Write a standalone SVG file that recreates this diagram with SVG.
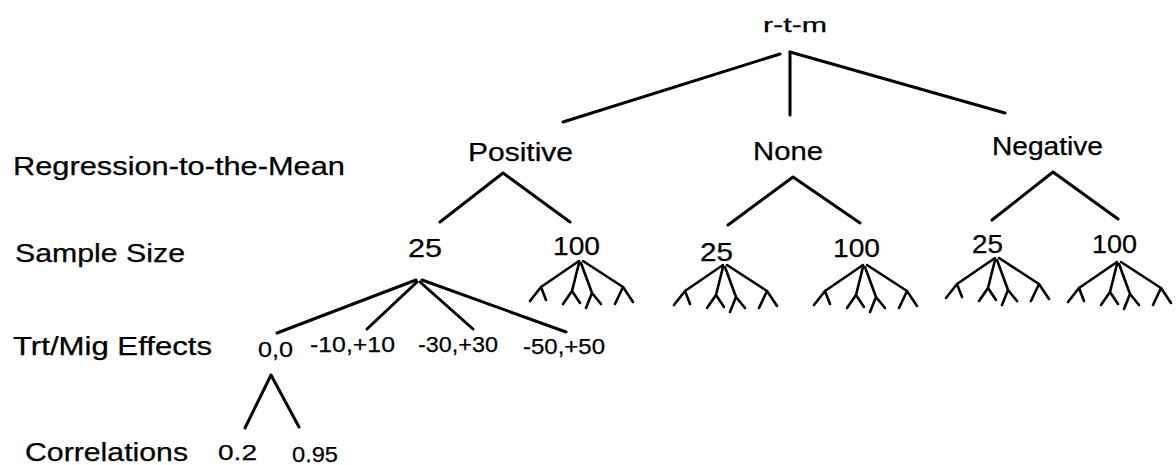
<svg xmlns="http://www.w3.org/2000/svg" xmlns:xlink="http://www.w3.org/1999/xlink" width="1176" height="465" viewBox="0 0 1176 465">
  <style>
    text { font-family: "Liberation Sans", Arial, sans-serif; fill: #000; stroke: #000; stroke-width: 0.25; }
    .lvl { font-size: 25px; }
    .node { font-size: 25px; }
    .val { font-size: 22px; }
    .root { font-size: 21px; }
    .edge { stroke: #000; stroke-width: 3; fill: none; stroke-linecap: round; stroke-linejoin: round; }
    .leaf { stroke: #000; stroke-width: 2.6; fill: none; stroke-linecap: round; stroke-linejoin: round; }
  </style>
  <defs>
    <g id="fan">
      <path class="leaf" d="M0,0 L-38,26 M-38,26 L-49,40 M-38,26 L-33,39"/>
      <path class="leaf" d="M0,2 L-7,30 M-7,30 L-16,43 M-7,30 L1,42"/>
      <path class="leaf" d="M2,2 L13,32 M13,32 L7,47 M13,32 L22,43"/>
      <path class="leaf" d="M4,0 L44,26 M44,26 L36,43 M44,26 L54,41"/>
    </g>
  </defs>
  <rect width="1176" height="465" fill="#fff"/>

  <g id="connectors">
    <path class="edge" d="M780,54 L563,122"/>
    <path class="edge" d="M790,52 L790,115"/>
    <path class="edge" d="M790,52 L1005,113"/>
    <path class="edge" d="M440,222 L503,173 L570,222"/>
    <path class="edge" d="M728,225 L793,177 L860,223"/>
    <path class="edge" d="M992,220 L1053,172 L1118,219"/>
    <path class="edge" d="M277,333 L416,280"/>
    <path class="edge" d="M367,329 L417,282"/>
    <path class="edge" d="M420,282 L473,329"/>
    <path class="edge" d="M422,280 L566,332"/>
    <path class="edge" d="M245,428 L271,375 L299,427"/>
    <use xlink:href="#fan" href="#fan" x="579" y="261"/>
    <use xlink:href="#fan" href="#fan" x="723" y="265"/>
    <use xlink:href="#fan" href="#fan" x="863" y="265"/>
    <use xlink:href="#fan" href="#fan" x="995" y="258"/>
    <use xlink:href="#fan" href="#fan" x="1117" y="262"/>
  </g>

  <g id="level-labels">
    <text class="lvl" x="13" y="175" textLength="332" lengthAdjust="spacingAndGlyphs">Regression-to-the-Mean</text>
    <text class="lvl" x="15" y="262" textLength="170" lengthAdjust="spacingAndGlyphs">Sample Size</text>
    <text class="lvl" x="13" y="355" textLength="199" lengthAdjust="spacingAndGlyphs">Trt/Mig Effects</text>
    <text class="lvl" x="25" y="461" textLength="163" lengthAdjust="spacingAndGlyphs">Correlations</text>
  </g>

  <g id="node-rtm"><text class="root" x="763" y="32" textLength="64" lengthAdjust="spacingAndGlyphs">r-t-m</text></g>
  <g id="node-positive"><text class="node" x="468" y="161" textLength="105" lengthAdjust="spacingAndGlyphs">Positive</text></g>
  <g id="node-none"><text class="node" x="753" y="160" textLength="70" lengthAdjust="spacingAndGlyphs">None</text></g>
  <g id="node-negative"><text class="node" x="992" y="155" textLength="111" lengthAdjust="spacingAndGlyphs">Negative</text></g>

  <g id="node-pos-25"><text class="node" x="408" y="257" textLength="34" lengthAdjust="spacingAndGlyphs">25</text></g>
  <g id="node-pos-100"><text class="node" x="553" y="255" textLength="47" lengthAdjust="spacingAndGlyphs">100</text></g>
  <g id="node-none-25"><text class="node" x="700" y="261" textLength="33" lengthAdjust="spacingAndGlyphs">25</text></g>
  <g id="node-none-100"><text class="node" x="833" y="257" textLength="47" lengthAdjust="spacingAndGlyphs">100</text></g>
  <g id="node-neg-25"><text class="node" x="972" y="253" textLength="31" lengthAdjust="spacingAndGlyphs">25</text></g>
  <g id="node-neg-100"><text class="node" x="1092" y="253" textLength="45" lengthAdjust="spacingAndGlyphs">100</text></g>

  <g id="node-eff-0"><text class="val" x="258" y="357" textLength="35" lengthAdjust="spacingAndGlyphs">0,0</text></g>
  <g id="node-eff-10"><text class="val" x="310" y="352" textLength="85" lengthAdjust="spacingAndGlyphs">-10,+10</text></g>
  <g id="node-eff-30"><text class="val" x="418" y="352" textLength="80" lengthAdjust="spacingAndGlyphs">-30,+30</text></g>
  <g id="node-eff-50"><text class="val" x="523" y="354" textLength="82" lengthAdjust="spacingAndGlyphs">-50,+50</text></g>

  <g id="node-corr-02"><text class="val" x="218" y="460" textLength="39" lengthAdjust="spacingAndGlyphs">0.2</text></g>
  <g id="node-corr-095"><text class="val" x="292" y="462" textLength="46" lengthAdjust="spacingAndGlyphs">0.95</text></g>
</svg>
